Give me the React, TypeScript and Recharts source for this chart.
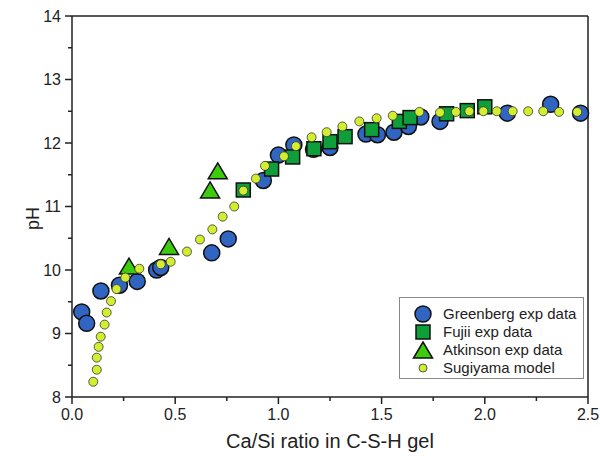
import {
  ScatterChart,
  Scatter,
  XAxis,
  YAxis,
  ReferenceLine,
  Legend,
  Label,
} from "recharts";

// Greenberg exp data
const greenbergX = [0.047, 0.071, 0.14, 0.23, 0.316, 0.41, 0.43, 0.677, 0.757, 0.927, 1.0, 1.075, 1.17, 1.25, 1.424, 1.48, 1.56, 1.63, 1.69, 1.783, 2.109, 2.319, 2.464];
const greenbergY = [9.34, 9.16, 9.67, 9.76, 9.82, 10.0, 10.04, 10.27, 10.49, 11.41, 11.81, 11.97, 11.9, 11.93, 12.14, 12.13, 12.17, 12.26, 12.41, 12.34, 12.47, 12.61, 12.47];

// Fujii exp data
const fujiiX = [0.83, 0.967, 1.069, 1.172, 1.25, 1.323, 1.452, 1.586, 1.638, 1.815, 1.915, 2.0];
const fujiiY = [11.26, 11.59, 11.78, 11.91, 12.02, 12.1, 12.21, 12.34, 12.4, 12.46, 12.51, 12.57];

// Atkinson exp data
const atkinsonX = [0.276, 0.47, 0.669, 0.706];
const atkinsonY = [10.03, 10.34, 11.23, 11.53];

// Sugiyama model
const sugiyamaX = [0.103, 0.12, 0.12, 0.129, 0.139, 0.158, 0.168, 0.189, 0.216, 0.258, 0.326, 0.43, 0.478, 0.557, 0.62, 0.68, 0.73, 0.786, 0.83, 0.891, 0.935, 1.027, 1.085, 1.161, 1.234, 1.31, 1.392, 1.476, 1.554, 1.683, 1.783, 1.86, 1.925, 1.993, 2.058, 2.135, 2.21, 2.283, 2.36, 2.448];
const sugiyamaY = [8.24, 8.43, 8.62, 8.79, 8.95, 9.14, 9.33, 9.51, 9.7, 9.88, 10.02, 10.09, 10.13, 10.29, 10.48, 10.64, 10.84, 11.0, 11.25, 11.44, 11.64, 11.79, 11.95, 12.09, 12.17, 12.26, 12.34, 12.39, 12.43, 12.49, 12.48, 12.49, 12.5, 12.5, 12.5, 12.5, 12.5, 12.5, 12.49, 12.49];

const xTicks = [0, 0.25, 0.5, 0.75, 1, 1.25, 1.5, 1.75, 2, 2.25, 2.5];
const yTicks = [8, 8.5, 9, 9.5, 10, 10.5, 11, 11.5, 12, 12.5, 13, 13.5, 14];

const zip = (xs: number[], ys: number[]) => xs.map((x, i) => ({ x, y: ys[i] }));

const greenberg = zip(greenbergX, greenbergY);
const fujii = zip(fujiiX, fujiiY);
const atkinson = zip(atkinsonX, atkinsonY);
const sugiyama = zip(sugiyamaX, sugiyamaY);

const FONT = "'Liberation Sans', Arial, sans-serif";
const BLUE = "#3165c2";
const SQ_GREEN = "#0e9e3a";
const TRI_GREEN = "#3ccc0c";
const YELLOW = "#d3ee2e";
const AXIS = "#222";

const circleShape = (p: any) => (
  <circle cx={p.cx} cy={p.cy} r={8} fill={BLUE} stroke="#111" strokeWidth={1.5} />
);
const squareShape = (p: any) => (
  <rect x={p.cx - 7} y={p.cy - 7} width={14} height={14} fill={SQ_GREEN} stroke="#111" strokeWidth={1.5} />
);
const triangleShape = (p: any) => (
  <polygon
    points={`${p.cx},${p.cy - 10} ${p.cx + 9.5},${p.cy + 6} ${p.cx - 9.5},${p.cy + 6}`}
    fill={TRI_GREEN}
    stroke="#111"
    strokeWidth={1.5}
  />
);
const dotShape = (p: any) => (
  <circle cx={p.cx} cy={p.cy} r={4.5} fill={YELLOW} stroke="#333" strokeWidth={0.8} />
);

const XTick = (props: any) => {
  const { x, y, payload } = props;
  const v = payload.value;
  const major = Math.abs(v * 2 - Math.round(v * 2)) < 1e-6;
  return (
    <g>
      <line x1={x} y1={y} x2={x} y2={y + (major ? 7 : 4)} stroke={AXIS} strokeWidth={1.5} />
      {major && (
        <text x={x} y={y + 23} textAnchor="middle" fontSize={16} fill="#222" fontFamily={FONT}>
          {v.toFixed(1)}
        </text>
      )}
    </g>
  );
};

const YTick = (props: any) => {
  const { x, y, payload } = props;
  const v = payload.value;
  const major = Math.abs(v - Math.round(v)) < 1e-6;
  return (
    <g>
      <line x1={x} y1={y} x2={x - (major ? 7 : 4)} y2={y} stroke={AXIS} strokeWidth={1.5} />
      {major && (
        <text x={x - 11} y={y + 5.5} textAnchor="end" fontSize={16} fill="#222" fontFamily={FONT}>
          {v}
        </text>
      )}
    </g>
  );
};

const legendItems = [
  { name: "Greenberg exp data", kind: "circle" },
  { name: "Fujii exp data", kind: "square" },
  { name: "Atkinson exp data", kind: "triangle" },
  { name: "Sugiyama model", kind: "dot" },
];

const LegendSymbol = ({ kind }: { kind: string }) => (
  <svg width={22} height={18} style={{ display: "block" }}>
    {kind === "circle" && circleShape({ cx: 11, cy: 9 })}
    {kind === "square" && squareShape({ cx: 11, cy: 9 })}
    {kind === "triangle" && triangleShape({ cx: 11, cy: 11 })}
    {kind === "dot" && <circle cx={11} cy={9} r={4} fill={YELLOW} stroke="#333" strokeWidth={0.8} />}
  </svg>
);

const renderLegend = () => (
  <div
    style={{
      border: "1px solid #888",
      background: "#fff",
      width: 185,
      height: 82,
      boxSizing: "border-box",
      padding: "7px 0 0 12px",
      fontFamily: FONT,
      fontSize: 15,
      color: "#222",
      textAlign: "left",
    }}
  >
    {legendItems.map((it) => (
      <div key={it.name} style={{ display: "flex", alignItems: "center", height: 18 }}>
        <LegendSymbol kind={it.kind} />
        <span style={{ marginLeft: 9, lineHeight: "18px", whiteSpace: "nowrap" }}>{it.name}</span>
      </div>
    ))}
  </div>
);

export default function App() {
  return (
    <div style={{ position: "absolute", left: 0, top: 0, background: "#fff" }}>
      <ScatterChart width={600} height={459} margin={{ top: 16, right: 12, bottom: 0, left: 0 }}>
        <XAxis
          type="number"
          dataKey="x"
          domain={[0, 2.5]}
          ticks={xTicks}
          interval={0}
          height={62}
          tickSize={0}
          tickMargin={0}
          tickLine={false}
          tick={<XTick />}
          axisLine={{ stroke: AXIS, strokeWidth: 1.5 }}
        >
          <Label
            content={(p: any) => {
              const vb = p.viewBox;
              return (
                <text x={vb.x + vb.width / 2} y={vb.y + 51} textAnchor="middle" fontSize={20} fill="#222" fontFamily={FONT}>
                  Ca/Si ratio in C-S-H gel
                </text>
              );
            }}
          />
        </XAxis>
        <YAxis
          type="number"
          dataKey="y"
          domain={[8, 14]}
          ticks={yTicks}
          interval={0}
          width={72}
          tickSize={0}
          tickMargin={0}
          tickLine={false}
          tick={<YTick />}
          axisLine={{ stroke: AXIS, strokeWidth: 1.5 }}
        >
          <Label
            content={(p: any) => {
              const vb = p.viewBox;
              const cx = vb.x + 39;
              const cy = vb.y + vb.height / 2 + 12;
              return (
                <text x={cx} y={cy} transform={`rotate(-90 ${cx} ${cy})`} textAnchor="middle" fontSize={18} fill="#222" fontFamily={FONT}>
                  pH
                </text>
              );
            }}
          />
        </YAxis>
        <ReferenceLine y={14} stroke={AXIS} strokeWidth={1.5} />
        <ReferenceLine x={2.5} stroke={AXIS} strokeWidth={1.5} />
        <Scatter name="Greenberg exp data" data={greenberg} shape={circleShape} isAnimationActive={false} />
        <Scatter name="Fujii exp data" data={fujii} shape={squareShape} isAnimationActive={false} />
        <Scatter name="Atkinson exp data" data={atkinson} shape={triangleShape} isAnimationActive={false} />
        <Scatter name="Sugiyama model" data={sugiyama} shape={dotShape} isAnimationActive={false} />
        <Legend
          layout="horizontal"
          verticalAlign="middle"
          align="center"
          content={renderLegend}
          wrapperStyle={{ position: "absolute", left: 399, top: 297, width: 185, height: 82, margin: 0 }}
        />
      </ScatterChart>
    </div>
  );
}
